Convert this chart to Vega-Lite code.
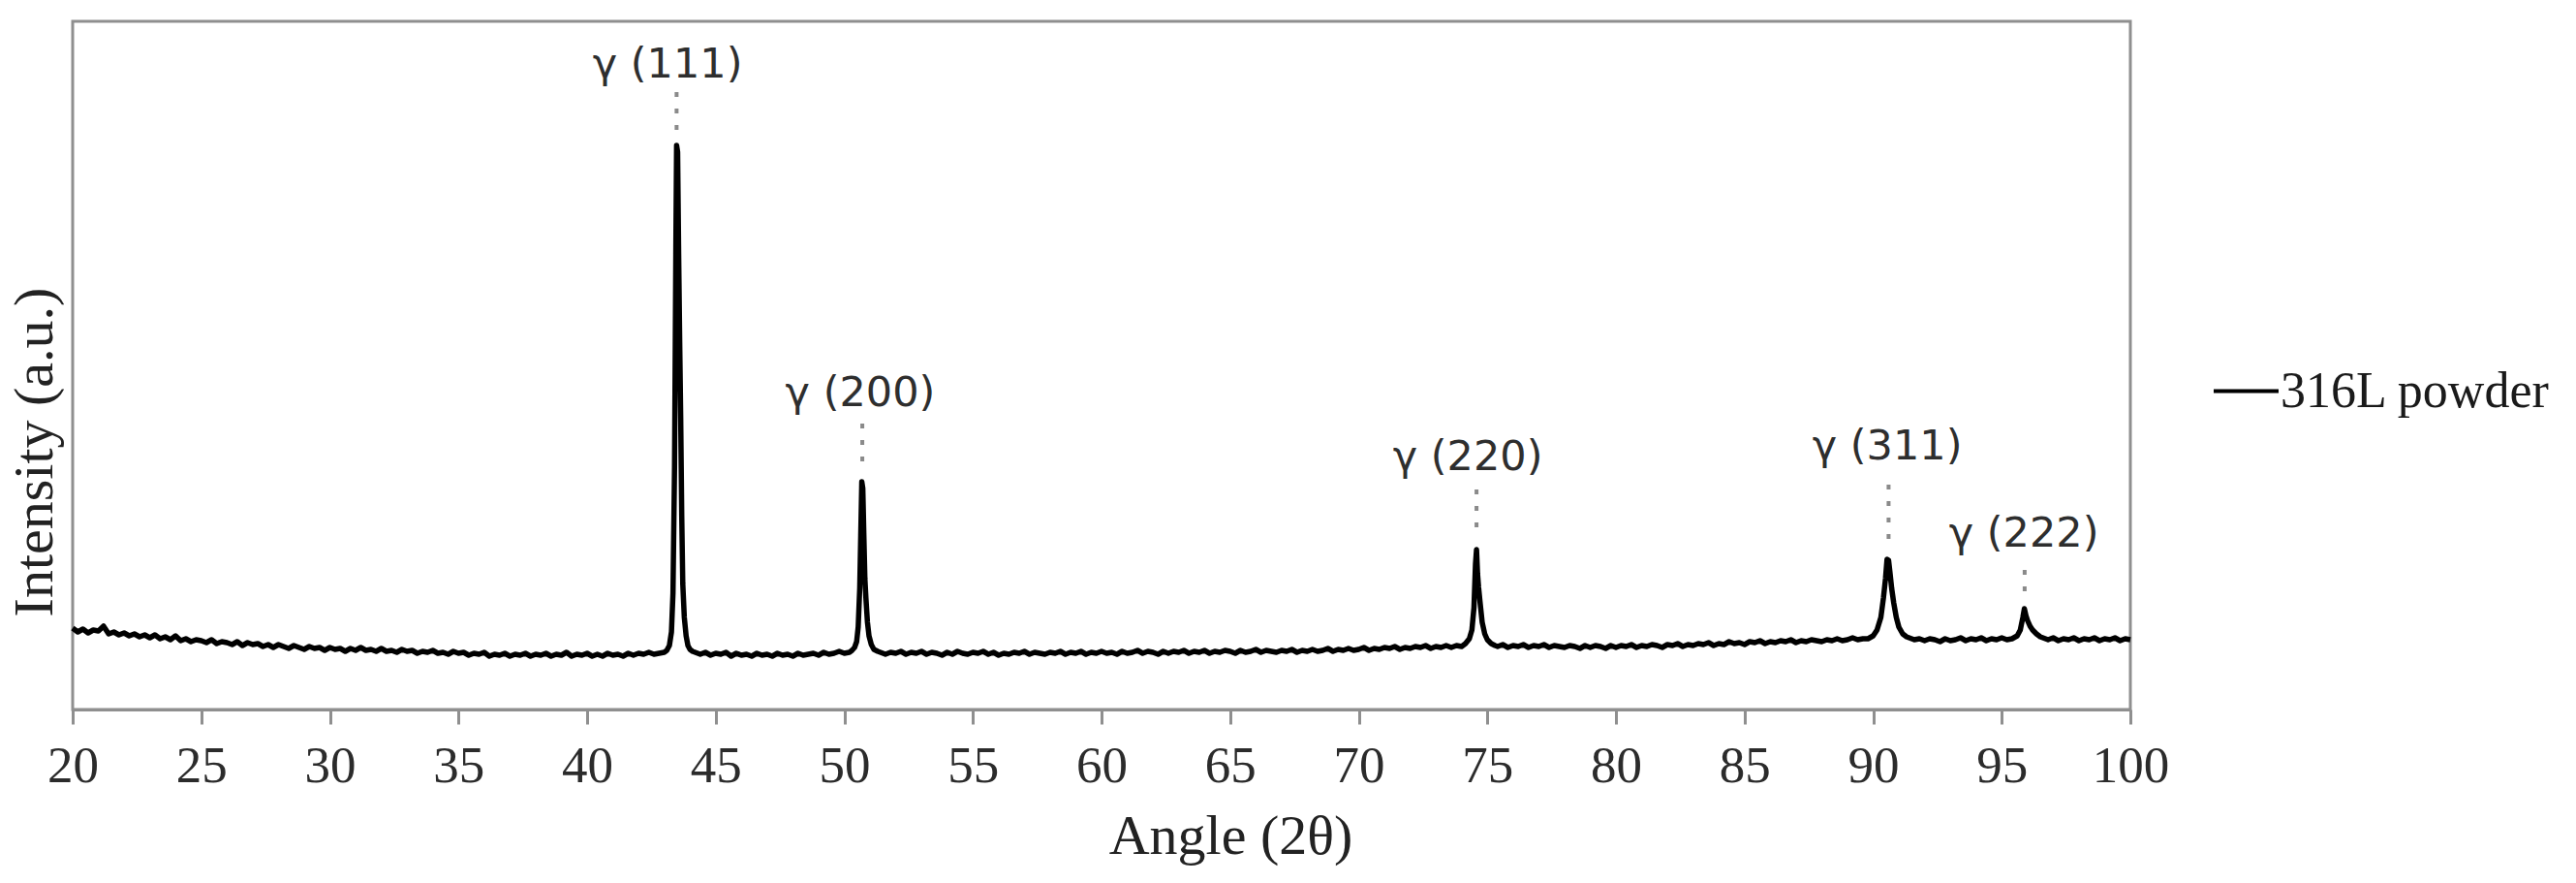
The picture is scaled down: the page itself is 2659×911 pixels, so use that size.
{
"$schema":"https://vega.github.io/schema/vega-lite/v6.json",
"width":2124,"height":710,
"autosize":{"type":"none"},
"padding":{"left":75,"top":22,"right":460,"bottom":179},
"background":"white",
"config":{"view":{"stroke":"#8f8f8f","strokeWidth":3},"font":"Liberation Serif"},
"layer":[
{"data":{"values":[
{"angle":20.0,"intensity":84},{"angle":20.2,"intensity":80},{"angle":20.4,"intensity":83},{"angle":20.6,"intensity":79},{"angle":20.8,"intensity":82},
{"angle":21.0,"intensity":81},{"angle":21.2,"intensity":86},{"angle":21.4,"intensity":78},{"angle":21.6,"intensity":80},{"angle":21.8,"intensity":77},
{"angle":22.0,"intensity":79},{"angle":22.2,"intensity":76},{"angle":22.4,"intensity":78},{"angle":22.6,"intensity":75},{"angle":22.8,"intensity":77},
{"angle":23.0,"intensity":74},{"angle":23.2,"intensity":77},{"angle":23.4,"intensity":73},{"angle":23.6,"intensity":75},{"angle":23.8,"intensity":72},
{"angle":24.0,"intensity":76},{"angle":24.2,"intensity":71},{"angle":24.4,"intensity":73},{"angle":24.6,"intensity":70},{"angle":24.8,"intensity":72},
{"angle":25.0,"intensity":71},{"angle":25.2,"intensity":69},{"angle":25.4,"intensity":72},{"angle":25.6,"intensity":68},{"angle":25.8,"intensity":70},
{"angle":26.0,"intensity":69},{"angle":26.2,"intensity":67},{"angle":26.4,"intensity":70},{"angle":26.6,"intensity":66},{"angle":26.8,"intensity":69},
{"angle":27.0,"intensity":67},{"angle":27.2,"intensity":68},{"angle":27.4,"intensity":65},{"angle":27.6,"intensity":67},{"angle":27.8,"intensity":64},
{"angle":28.0,"intensity":67},{"angle":28.2,"intensity":65},{"angle":28.4,"intensity":63},{"angle":28.6,"intensity":66},{"angle":28.8,"intensity":64},
{"angle":29.0,"intensity":62},{"angle":29.2,"intensity":65},{"angle":29.4,"intensity":63},{"angle":29.6,"intensity":64},{"angle":29.8,"intensity":61},
{"angle":30.0,"intensity":64},{"angle":30.2,"intensity":62},{"angle":30.4,"intensity":63},{"angle":30.6,"intensity":60},{"angle":30.8,"intensity":63},
{"angle":31.0,"intensity":61},{"angle":31.2,"intensity":64},{"angle":31.4,"intensity":61},{"angle":31.6,"intensity":62},{"angle":31.8,"intensity":60},
{"angle":32.0,"intensity":63},{"angle":32.2,"intensity":60},{"angle":32.4,"intensity":61},{"angle":32.6,"intensity":59},{"angle":32.8,"intensity":62},
{"angle":33.0,"intensity":60},{"angle":33.2,"intensity":61},{"angle":33.4,"intensity":58},{"angle":33.6,"intensity":60},{"angle":33.8,"intensity":59},
{"angle":34.0,"intensity":61},{"angle":34.2,"intensity":58},{"angle":34.4,"intensity":59},{"angle":34.6,"intensity":57},{"angle":34.8,"intensity":60},
{"angle":35.0,"intensity":58},{"angle":35.2,"intensity":59},{"angle":35.4,"intensity":56},{"angle":35.6,"intensity":58},{"angle":35.8,"intensity":57},
{"angle":36.0,"intensity":59},{"angle":36.2,"intensity":55},{"angle":36.4,"intensity":57},{"angle":36.6,"intensity":56},{"angle":36.8,"intensity":58},
{"angle":37.0,"intensity":55},{"angle":37.2,"intensity":57},{"angle":37.4,"intensity":56},{"angle":37.6,"intensity":58},{"angle":37.8,"intensity":55},
{"angle":38.0,"intensity":57},{"angle":38.2,"intensity":56},{"angle":38.4,"intensity":58},{"angle":38.6,"intensity":55},{"angle":38.8,"intensity":57},
{"angle":39.0,"intensity":56},{"angle":39.2,"intensity":59},{"angle":39.4,"intensity":55},{"angle":39.6,"intensity":57},{"angle":39.8,"intensity":56},
{"angle":40.0,"intensity":58},{"angle":40.2,"intensity":55},{"angle":40.4,"intensity":57},{"angle":40.6,"intensity":55},{"angle":40.8,"intensity":58},
{"angle":41.0,"intensity":56},{"angle":41.2,"intensity":57},{"angle":41.4,"intensity":55},{"angle":41.6,"intensity":58},{"angle":41.8,"intensity":56},
{"angle":42.0,"intensity":58},{"angle":42.2,"intensity":57},{"angle":42.4,"intensity":59},{"angle":42.6,"intensity":57},{"angle":42.8,"intensity":58},
{"angle":43.0,"intensity":59},{"angle":43.1,"intensity":61},{"angle":43.2,"intensity":66},{"angle":43.28,"intensity":80},{"angle":43.34,"intensity":120},
{"angle":43.4,"intensity":250},{"angle":43.45,"intensity":470},{"angle":43.48,"intensity":582},{"angle":43.52,"intensity":575},{"angle":43.56,"intensity":470},
{"angle":43.6,"intensity":380},{"angle":43.64,"intensity":300},{"angle":43.68,"intensity":200},{"angle":43.72,"intensity":130},{"angle":43.78,"intensity":95},
{"angle":43.85,"intensity":76},{"angle":43.92,"intensity":66},{"angle":44.0,"intensity":62},{"angle":44.1,"intensity":60},
{"angle":44.2,"intensity":59},{"angle":44.4,"intensity":57},{"angle":44.6,"intensity":59},{"angle":44.8,"intensity":56},
{"angle":45.0,"intensity":58},{"angle":45.2,"intensity":57},{"angle":45.4,"intensity":59},{"angle":45.6,"intensity":55},{"angle":45.8,"intensity":58},
{"angle":46.0,"intensity":56},{"angle":46.2,"intensity":57},{"angle":46.4,"intensity":55},{"angle":46.6,"intensity":58},{"angle":46.8,"intensity":56},
{"angle":47.0,"intensity":57},{"angle":47.2,"intensity":55},{"angle":47.4,"intensity":58},{"angle":47.6,"intensity":56},{"angle":47.8,"intensity":57},
{"angle":48.0,"intensity":55},{"angle":48.2,"intensity":58},{"angle":48.4,"intensity":56},{"angle":48.6,"intensity":57},{"angle":48.8,"intensity":58},
{"angle":49.0,"intensity":56},{"angle":49.2,"intensity":59},{"angle":49.4,"intensity":57},{"angle":49.6,"intensity":58},{"angle":49.8,"intensity":60},
{"angle":50.0,"intensity":58},{"angle":50.2,"intensity":59},{"angle":50.3,"intensity":61},{"angle":50.4,"intensity":64},{"angle":50.48,"intensity":70},
{"angle":50.54,"intensity":85},{"angle":50.6,"intensity":125},{"angle":50.64,"intensity":180},{"angle":50.68,"intensity":235},{"angle":50.72,"intensity":228},
{"angle":50.76,"intensity":180},{"angle":50.8,"intensity":135},{"angle":50.84,"intensity":115},{"angle":50.9,"intensity":90},{"angle":50.96,"intensity":76},
{"angle":51.05,"intensity":67},{"angle":51.15,"intensity":62},{"angle":51.3,"intensity":60},
{"angle":51.4,"intensity":59},{"angle":51.6,"intensity":57},{"angle":51.8,"intensity":59},
{"angle":52.0,"intensity":58},{"angle":52.2,"intensity":60},{"angle":52.4,"intensity":57},{"angle":52.6,"intensity":59},{"angle":52.8,"intensity":58},
{"angle":53.0,"intensity":60},{"angle":53.2,"intensity":57},{"angle":53.4,"intensity":59},{"angle":53.6,"intensity":58},{"angle":53.8,"intensity":56},
{"angle":54.0,"intensity":59},{"angle":54.2,"intensity":57},{"angle":54.4,"intensity":60},{"angle":54.6,"intensity":58},{"angle":54.8,"intensity":57},
{"angle":55.0,"intensity":59},{"angle":55.2,"intensity":58},{"angle":55.4,"intensity":60},{"angle":55.6,"intensity":57},{"angle":55.8,"intensity":59},
{"angle":56.0,"intensity":56},{"angle":56.2,"intensity":58},{"angle":56.4,"intensity":57},{"angle":56.6,"intensity":59},{"angle":56.8,"intensity":58},
{"angle":57.0,"intensity":60},{"angle":57.2,"intensity":57},{"angle":57.4,"intensity":59},{"angle":57.6,"intensity":58},{"angle":57.8,"intensity":57},
{"angle":58.0,"intensity":59},{"angle":58.2,"intensity":58},{"angle":58.4,"intensity":60},{"angle":58.6,"intensity":57},{"angle":58.8,"intensity":59},
{"angle":59.0,"intensity":58},{"angle":59.2,"intensity":60},{"angle":59.4,"intensity":57},{"angle":59.6,"intensity":59},{"angle":59.8,"intensity":58},
{"angle":60.0,"intensity":60},{"angle":60.2,"intensity":58},{"angle":60.4,"intensity":59},{"angle":60.6,"intensity":57},{"angle":60.8,"intensity":60},
{"angle":61.0,"intensity":58},{"angle":61.2,"intensity":59},{"angle":61.4,"intensity":61},{"angle":61.6,"intensity":58},{"angle":61.8,"intensity":60},
{"angle":62.0,"intensity":59},{"angle":62.2,"intensity":57},{"angle":62.4,"intensity":60},{"angle":62.6,"intensity":58},{"angle":62.8,"intensity":60},
{"angle":63.0,"intensity":59},{"angle":63.2,"intensity":61},{"angle":63.4,"intensity":58},{"angle":63.6,"intensity":60},{"angle":63.8,"intensity":59},
{"angle":64.0,"intensity":61},{"angle":64.2,"intensity":58},{"angle":64.4,"intensity":60},{"angle":64.6,"intensity":59},{"angle":64.8,"intensity":61},
{"angle":65.0,"intensity":60},{"angle":65.2,"intensity":58},{"angle":65.4,"intensity":61},{"angle":65.6,"intensity":59},{"angle":65.8,"intensity":60},
{"angle":66.0,"intensity":62},{"angle":66.2,"intensity":59},{"angle":66.4,"intensity":61},{"angle":66.6,"intensity":60},{"angle":66.8,"intensity":59},
{"angle":67.0,"intensity":61},{"angle":67.2,"intensity":60},{"angle":67.4,"intensity":62},{"angle":67.6,"intensity":59},{"angle":67.8,"intensity":61},
{"angle":68.0,"intensity":60},{"angle":68.2,"intensity":62},{"angle":68.4,"intensity":60},{"angle":68.6,"intensity":61},{"angle":68.8,"intensity":63},
{"angle":69.0,"intensity":60},{"angle":69.2,"intensity":62},{"angle":69.4,"intensity":61},{"angle":69.6,"intensity":63},{"angle":69.8,"intensity":61},
{"angle":70.0,"intensity":62},{"angle":70.2,"intensity":64},{"angle":70.4,"intensity":61},{"angle":70.6,"intensity":63},{"angle":70.8,"intensity":62},
{"angle":71.0,"intensity":64},{"angle":71.2,"intensity":63},{"angle":71.4,"intensity":65},{"angle":71.6,"intensity":62},{"angle":71.8,"intensity":64},
{"angle":72.0,"intensity":63},{"angle":72.2,"intensity":65},{"angle":72.4,"intensity":64},{"angle":72.6,"intensity":66},{"angle":72.8,"intensity":63},
{"angle":73.0,"intensity":65},{"angle":73.2,"intensity":64},{"angle":73.4,"intensity":66},{"angle":73.6,"intensity":64},{"angle":73.8,"intensity":66},
{"angle":74.0,"intensity":65},{"angle":74.15,"intensity":68},{"angle":74.3,"intensity":73},{"angle":74.4,"intensity":82},{"angle":74.48,"intensity":105},
{"angle":74.54,"intensity":150},{"angle":74.58,"intensity":165},{"angle":74.62,"intensity":140},{"angle":74.66,"intensity":126},{"angle":74.72,"intensity":110},
{"angle":74.8,"intensity":90},{"angle":74.9,"intensity":78},{"angle":75.0,"intensity":72},{"angle":75.15,"intensity":68},{"angle":75.3,"intensity":66},
{"angle":75.4,"intensity":65},{"angle":75.6,"intensity":67},{"angle":75.8,"intensity":64},
{"angle":76.0,"intensity":66},{"angle":76.2,"intensity":65},{"angle":76.4,"intensity":67},{"angle":76.6,"intensity":64},{"angle":76.8,"intensity":66},
{"angle":77.0,"intensity":65},{"angle":77.2,"intensity":67},{"angle":77.4,"intensity":64},{"angle":77.6,"intensity":66},{"angle":77.8,"intensity":65},
{"angle":78.0,"intensity":64},{"angle":78.2,"intensity":66},{"angle":78.4,"intensity":65},{"angle":78.6,"intensity":63},{"angle":78.8,"intensity":66},
{"angle":79.0,"intensity":64},{"angle":79.2,"intensity":66},{"angle":79.4,"intensity":65},{"angle":79.6,"intensity":63},{"angle":79.8,"intensity":66},
{"angle":80.0,"intensity":64},{"angle":80.2,"intensity":66},{"angle":80.4,"intensity":65},{"angle":80.6,"intensity":67},{"angle":80.8,"intensity":64},
{"angle":81.0,"intensity":66},{"angle":81.2,"intensity":65},{"angle":81.4,"intensity":67},{"angle":81.6,"intensity":66},{"angle":81.8,"intensity":64},
{"angle":82.0,"intensity":67},{"angle":82.2,"intensity":66},{"angle":82.4,"intensity":68},{"angle":82.6,"intensity":65},{"angle":82.8,"intensity":67},
{"angle":83.0,"intensity":66},{"angle":83.2,"intensity":68},{"angle":83.4,"intensity":67},{"angle":83.6,"intensity":69},{"angle":83.8,"intensity":66},
{"angle":84.0,"intensity":68},{"angle":84.2,"intensity":67},{"angle":84.4,"intensity":70},{"angle":84.6,"intensity":68},{"angle":84.8,"intensity":69},
{"angle":85.0,"intensity":67},{"angle":85.2,"intensity":70},{"angle":85.4,"intensity":69},{"angle":85.6,"intensity":71},{"angle":85.8,"intensity":68},
{"angle":86.0,"intensity":70},{"angle":86.2,"intensity":69},{"angle":86.4,"intensity":71},{"angle":86.6,"intensity":70},{"angle":86.8,"intensity":72},
{"angle":87.0,"intensity":69},{"angle":87.2,"intensity":71},{"angle":87.4,"intensity":70},{"angle":87.6,"intensity":72},{"angle":87.8,"intensity":71},
{"angle":88.0,"intensity":70},{"angle":88.2,"intensity":72},{"angle":88.4,"intensity":71},{"angle":88.6,"intensity":73},{"angle":88.8,"intensity":71},
{"angle":89.0,"intensity":72},{"angle":89.2,"intensity":74},{"angle":89.4,"intensity":72},{"angle":89.6,"intensity":73},
{"angle":89.8,"intensity":73},{"angle":90.0,"intensity":76},{"angle":90.15,"intensity":82},{"angle":90.3,"intensity":95},{"angle":90.4,"intensity":115},
{"angle":90.48,"intensity":135},{"angle":90.54,"intensity":155},{"angle":90.6,"intensity":154},{"angle":90.66,"intensity":140},{"angle":90.72,"intensity":125},
{"angle":90.8,"intensity":110},{"angle":90.9,"intensity":95},{"angle":91.0,"intensity":85},{"angle":91.15,"intensity":78},{"angle":91.3,"intensity":75},
{"angle":91.5,"intensity":73},{"angle":91.6,"intensity":72},{"angle":91.8,"intensity":73},
{"angle":92.0,"intensity":71},{"angle":92.2,"intensity":73},{"angle":92.4,"intensity":72},{"angle":92.6,"intensity":70},{"angle":92.8,"intensity":73},
{"angle":93.0,"intensity":71},{"angle":93.2,"intensity":72},{"angle":93.4,"intensity":74},{"angle":93.6,"intensity":71},{"angle":93.8,"intensity":73},
{"angle":94.0,"intensity":72},{"angle":94.2,"intensity":74},{"angle":94.4,"intensity":71},{"angle":94.6,"intensity":73},{"angle":94.8,"intensity":72},
{"angle":95.0,"intensity":74},{"angle":95.2,"intensity":72},
{"angle":95.4,"intensity":73},{"angle":95.6,"intensity":76},{"angle":95.72,"intensity":82},{"angle":95.82,"intensity":95},{"angle":95.88,"intensity":104},
{"angle":95.94,"intensity":97},{"angle":96.0,"intensity":92},{"angle":96.1,"intensity":86},{"angle":96.2,"intensity":82},{"angle":96.35,"intensity":78},
{"angle":96.5,"intensity":75},{"angle":96.7,"intensity":73},
{"angle":96.8,"intensity":72},{"angle":97.0,"intensity":74},{"angle":97.2,"intensity":71},{"angle":97.4,"intensity":73},{"angle":97.6,"intensity":72},
{"angle":97.8,"intensity":74},{"angle":98.0,"intensity":71},{"angle":98.2,"intensity":73},{"angle":98.4,"intensity":72},{"angle":98.6,"intensity":74},
{"angle":98.8,"intensity":71},{"angle":99.0,"intensity":73},{"angle":99.2,"intensity":72},{"angle":99.4,"intensity":74},{"angle":99.6,"intensity":71},
{"angle":99.8,"intensity":73},{"angle":100.0,"intensity":72}
]},
"mark":{"type":"line","strokeWidth":5.5,"strokeJoin":"round"},
"encoding":{
"x":{"field":"angle","type":"quantitative","scale":{"domain":[20,100],"nice":false,"zero":false},
"axis":{"values":[20,25,30,35,40,45,50,55,60,65,70,75,80,85,90,95,100],"grid":false,
"domainColor":"#8f8f8f","domainWidth":3,"tickColor":"#8f8f8f","tickWidth":3,"tickSize":15,
"labelFont":"Liberation Serif","labelFontSize":53,"labelColor":"#2b2b2b","labelPadding":17,"labelFlush":false,"labelOverlap":false,
"title":"Angle (2θ)","titleFont":"Liberation Serif","titleFontSize":58,"titleFontWeight":"normal","titleColor":"#222222",
"titleX":1195,"titleY":148,"titleAlign":"center","titleBaseline":"alphabetic"}},
"y":{"field":"intensity","type":"quantitative","scale":{"domain":[0,710],"nice":false},
"axis":{"labels":false,"ticks":false,"grid":false,"domain":false,
"title":"Intensity (a.u.)","titleFont":"Liberation Serif","titleFontSize":58,"titleFontWeight":"normal","titleColor":"#222222",
"titleAngle":270,"titleX":-22,"titleY":444,"titleAlign":"center","titleBaseline":"alphabetic"}},
"color":{"datum":"316L powder","type":"nominal","scale":{"range":["#000000"]},
"legend":{"orient":"none","legendX":2208,"legendY":346,"title":null,"padding":0,"symbolType":"stroke","symbolStrokeWidth":4,"symbolSize":4489,
"labelFont":"Liberation Serif","labelFontSize":52,"labelColor":"#1a1a1a","labelOffset":0,"labelLimit":0}}
}},
{"data":{"values":[
{"label":"γ (111)","labelAngle":43.13,"labelPos":652,"peak":43.48,"top":637,"bottom":595},
{"label":"γ (200)","labelAngle":50.62,"labelPos":313,"peak":50.70,"top":295,"bottom":252},
{"label":"γ (220)","labelAngle":74.24,"labelPos":247,"peak":74.58,"top":227,"bottom":185},
{"label":"γ (311)","labelAngle":90.55,"labelPos":258,"peak":90.60,"top":232,"bottom":175},
{"label":"γ (222)","labelAngle":95.86,"labelPos":168,"peak":95.89,"top":144,"bottom":119}
]},
"layer":[
{"mark":{"type":"rule","strokeDash":[5,12],"strokeWidth":4,"color":"#8a8a8a"},
"encoding":{"x":{"field":"peak","type":"quantitative"},"y":{"field":"top","type":"quantitative"},"y2":{"field":"bottom"}}},
{"mark":{"type":"text","font":"DejaVu Sans","fontSize":43,"color":"#2e2e2e","align":"center","baseline":"alphabetic"},
"encoding":{"x":{"field":"labelAngle","type":"quantitative"},"y":{"field":"labelPos","type":"quantitative"},"text":{"field":"label"}}}
]}
]
}
